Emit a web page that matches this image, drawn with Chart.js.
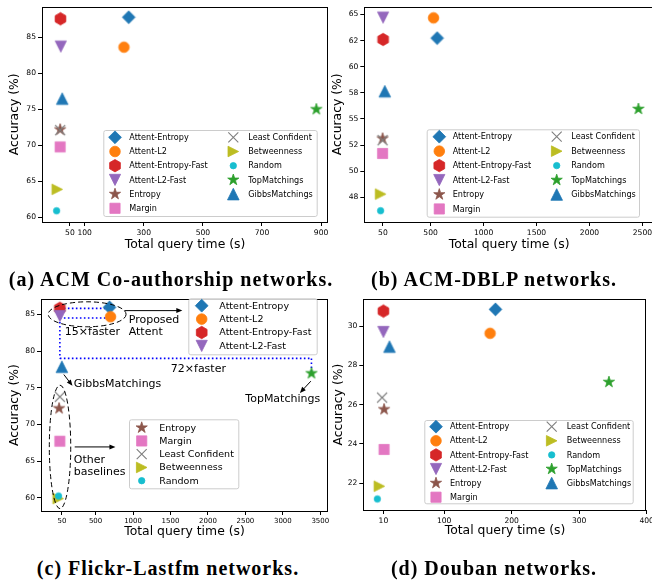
<!DOCTYPE html>
<html>
<head>
<meta charset="utf-8">
<script src="https://cdn.jsdelivr.net/npm/chart.js@4.4.1/dist/chart.umd.min.js"></script>
<style>
  html, body { margin: 0; padding: 0; background: #fff; }
  body { width: 652px; height: 583px; position: relative; overflow: hidden; }
  .panel { position: absolute; }
  .cap { position: absolute; font-family: "Liberation Serif", serif; font-weight: bold; font-size: 20px;
         letter-spacing: 1px; white-space: nowrap; line-height: 1; transform: translate(-50%, -50%); }
</style>
</head>
<body>
<div class="panel" style="left:0;top:0;width:334px;height:256px"><canvas id="acm"></canvas></div>
<div class="panel" style="left:330px;top:0;width:330px;height:256px"><canvas id="dblp"></canvas></div>
<div class="panel" style="left:0;top:290px;width:334px;height:256px"><canvas id="flickr"></canvas></div>
<div class="panel" style="left:330px;top:290px;width:330px;height:256px"><canvas id="douban"></canvas></div>
<div class="cap" style="left:171px;top:279px">(a) ACM Co-authorship networks.</div>
<div class="cap" style="left:494px;top:279px">(b) ACM-DBLP networks.</div>
<div class="cap" style="left:168px;top:568px">(c) Flickr-Lastfm networks.</div>
<div class="cap" style="left:494px;top:568px">(d) Douban networks.</div>
<script>
const FONT = '"DejaVu Sans"';

const methods = ['Attent-Entropy', 'Attent-L2', 'Attent-Entropy-Fast', 'Attent-L2-Fast', 'Entropy', 'Margin',
  'Least Confident', 'Betweenness', 'Random', 'TopMatchings', 'GibbsMatchings'];
const colors = ['#1f77b4', '#ff7f0e', '#d62728', '#9467bd', '#8c564b', '#e377c2',
  '#7f7f7f', '#bcbd22', '#17becf', '#2ca02c', '#1f77b4'];
const shapes = ['D', 'o', 'h', 'v', '*', 's', 'x', '>', 'o', '*', '^'];
const sizes = [6.4, 5.3, 6.2, 5.6, 5.9, 5.1, 5.0, 5.3, 3.2, 5.9, 5.8];

// (a) ACM Co-authorship
const acmTime = [249, 233, 18, 19, 17, 17, 17, 7, 5, 884, 24];
const acmAcc = [87.77, 83.62, 87.55, 83.7, 72.18, 69.77, 72.1, 63.88, 60.91, 74.99, 76.47];
const acmXTicks = [50, 100, 300, 500, 700, 900];
const acmYTicks = [60, 65, 70, 75, 80, 85];

// (b) ACM-DBLP
const dblpTime = [562, 528, 52, 52, 47, 47, 47, 28, 28, 2462, 68];
const dblpAcc = [62.74, 64.68, 62.61, 64.71, 53.13, 51.7, 52.97, 47.81, 46.22, 55.96, 57.65];
const dblpXTicks = [50, 500, 1000, 1500, 2000, 2500];
const dblpYTicks = [47.5, 50, 52.5, 55, 57.5, 60, 62.5, 65];
const dblpYLabels = ['48', '50', '52', '55', '58', '60', '62', '65'];

// (c) Flickr-Lastfm
const flickrTime = [686, 699, 23, 23, 13, 23, 23, 0, 5, 3382, 49];
const flickrAcc = [85.95, 84.67, 85.82, 84.77, 72.19, 67.73, 73.77, 59.92, 60.27, 76.96, 77.86];
const flickrXTicks = [50, 500, 1000, 1500, 2000, 2500, 3000, 3500];
const flickrYTicks = [60, 65, 70, 75, 80, 85];

// (d) Douban
const doubanTime = [176, 168, 10, 10, 11, 11, 8, 4, 1, 344, 19];
const doubanAcc = [30.85, 29.63, 30.76, 29.7, 25.76, 23.72, 26.36, 21.85, 21.2, 27.15, 28.95];
const doubanXTicks = [10, 100, 200, 300, 400];
const doubanYTicks = [22, 24, 26, 28, 30];

// annotations of (c), in data units
const flickrGuides = [[23, 85.8, 686, 85.8], [23, 84.5, 699, 84.5], [23, 84.5, 23, 79.0],
  [23, 79.0, 3382, 79.0], [3382, 79.0, 3382, 76.96]];
const flickrEllipses = [[387, 85.0, 520, 1.7], [25, 66.95, 143, 8.4]];
const flickrArrows = [[886, 85.5, 1658, 85.5], [76, 76.8, 191, 75.27], [3374, 75.9, 3228, 74.3], [221, 66.95, 765, 66.95]];
const flickrNotes = [['Proposed', 942, 84.22], ['Attent', 942, 82.55], ['15\u00d7faster', 89, 82.55],
  ['72\u00d7faster', 1504, 77.54], ['GibbsMatchings', 208, 75.5], ['TopMatchings', 2499, 73.5],
  ['Other', 208, 65.14], ['baselines', 208, 63.5]];

function poly(g, pts) {
  pts.forEach((p, k) => k ? g.lineTo(p[0], p[1]) : g.moveTo(p[0], p[1]));
  g.closePath();
}

function drawMarker(g, shape, color, r) {
  g.save();
  g.fillStyle = color;
  g.strokeStyle = color;
  g.lineWidth = 0.8;
  g.beginPath();
  if (shape === 'o') g.arc(0, 0, r, 0, Math.PI * 2);
  else if (shape === 'D') poly(g, [[0, -r], [r, 0], [0, r], [-r, 0]]);
  else if (shape === 's') poly(g, [[-r, -r], [r, -r], [r, r], [-r, r]]);
  else if (shape === 'v') poly(g, [[-r, -r], [r, -r], [0, r]]);
  else if (shape === '^') poly(g, [[0, -r], [r, r], [-r, r]]);
  else if (shape === '>') poly(g, [[r, 0], [-r, r], [-r, -r]]);
  else if (shape === 'h') poly(g, [0, 1, 2, 3, 4, 5].map(k => [r * Math.sin(k * Math.PI / 3), -r * Math.cos(k * Math.PI / 3)]));
  else if (shape === '*') poly(g, [0, 1, 2, 3, 4, 5, 6, 7, 8, 9].map(k => {
    const rr = k % 2 ? r * 0.382 : r;
    return [rr * Math.sin(k * Math.PI / 5), -rr * Math.cos(k * Math.PI / 5)];
  }));
  if (shape === 'x') {
    g.moveTo(-r, -r); g.lineTo(r, r); g.moveTo(r, -r); g.lineTo(-r, r);
    g.lineWidth = 1.1;
    g.stroke();
  } else {
    g.fill();
    g.stroke();
  }
  g.restore();
}

const markers = methods.map((m, i) => {
  const s = Math.ceil(2 * sizes[i] + 4);
  const c = document.createElement('canvas');
  c.width = s; c.height = s;
  const g = c.getContext('2d');
  g.translate(s / 2, s / 2);
  drawMarker(g, shapes[i], colors[i], sizes[i]);
  return c;
});

const framePlugin = {
  id: 'frame',
  afterDatasetsDraw(chart) {
    const a = chart.chartArea, ctx = chart.ctx;
    ctx.save();
    ctx.strokeStyle = '#000';
    ctx.lineWidth = 1;
    ctx.strokeRect(Math.round(a.left) + 0.5, Math.round(a.top) + 0.5,
      Math.round(a.right - a.left) - 1, Math.round(a.bottom - a.top));
    ctx.restore();
  }
};

function legendPlugin(boxes) {
  return {
    id: 'mplLegend',
    afterDraw(chart) {
      const ctx = chart.ctx;
      boxes.forEach(b => {
        ctx.save();
        ctx.beginPath();
        ctx.roundRect(b.box[0] + 0.5, b.box[1] + 0.5, b.box[2] - b.box[0], b.box[3] - b.box[1], 2);
        ctx.fillStyle = 'rgba(255,255,255,0.8)';
        ctx.fill();
        ctx.strokeStyle = '#cccccc';
        ctx.lineWidth = 1;
        ctx.stroke();
        ctx.font = b.font + 'px ' + FONT;
        ctx.fillStyle = '#000';
        ctx.textBaseline = 'middle';
        ctx.textAlign = 'left';
        b.cols.forEach(col => {
          col.items.forEach((idx, r) => {
            const y = b.y0 + r * b.step;
            ctx.save();
            ctx.translate(col.mx, y);
            drawMarker(ctx, shapes[idx], colors[idx], sizes[idx]);
            ctx.restore();
            ctx.fillText(methods[idx], col.tx, y + 0.5);
          });
        });
        ctx.restore();
      });
    }
  };
}

const flickrNotesPlugin = {
  id: 'flickrNotes',
  beforeDatasetsDraw(chart) {
    const X = v => chart.scales.x.getPixelForValue(v), Y = v => chart.scales.y.getPixelForValue(v);
    const ctx = chart.ctx;
    ctx.save();
    ctx.strokeStyle = '#0000ff';
    ctx.lineWidth = 1.6;
    ctx.setLineDash([1.6, 2.4]);
    flickrGuides.forEach(l => {
      ctx.beginPath();
      ctx.moveTo(X(l[0]), Y(l[1]));
      ctx.lineTo(X(l[2]), Y(l[3]));
      ctx.stroke();
    });
    ctx.restore();
  },
  afterDatasetsDraw(chart) {
    const X = v => chart.scales.x.getPixelForValue(v), Y = v => chart.scales.y.getPixelForValue(v);
    const ctx = chart.ctx;
    ctx.save();
    ctx.strokeStyle = '#000';
    ctx.lineWidth = 1;
    ctx.setLineDash([5, 3]);
    flickrEllipses.forEach(e => {
      const cx = X(e[0]), cy = Y(e[1]);
      ctx.beginPath();
      ctx.ellipse(cx, cy, Math.abs(X(e[0] + e[2]) - cx), Math.abs(Y(e[1] + e[3]) - cy), 0, 0, Math.PI * 2);
      ctx.stroke();
    });
    ctx.setLineDash([]);
    ctx.fillStyle = '#000';
    flickrArrows.forEach(a => {
      const x1 = X(a[0]), y1 = Y(a[1]), x2 = X(a[2]), y2 = Y(a[3]);
      const ang = Math.atan2(y2 - y1, x2 - x1);
      ctx.beginPath();
      ctx.moveTo(x1, y1);
      ctx.lineTo(x2 - 4 * Math.cos(ang), y2 - 4 * Math.sin(ang));
      ctx.stroke();
      ctx.beginPath();
      ctx.moveTo(x2, y2);
      ctx.lineTo(x2 - 6 * Math.cos(ang) + 2.5 * Math.sin(ang), y2 - 6 * Math.sin(ang) - 2.5 * Math.cos(ang));
      ctx.lineTo(x2 - 6 * Math.cos(ang) - 2.5 * Math.sin(ang), y2 - 6 * Math.sin(ang) + 2.5 * Math.cos(ang));
      ctx.closePath();
      ctx.fill();
    });
    ctx.font = '11px ' + FONT;
    ctx.textBaseline = 'middle';
    ctx.textAlign = 'left';
    flickrNotes.forEach(n => ctx.fillText(n[0], X(n[1]), Y(n[2])));
    ctx.restore();
  }
};

const tickGrid = { drawOnChartArea: false, drawTicks: true, tickLength: 4, color: '#000', lineWidth: 1 };

function makeChart(id, p) {
  const datasets = methods.map((m, i) => ({
    label: m,
    data: [{ x: p.time[i], y: p.acc[i] }],
    pointStyle: markers[i],
    pointRadius: 5,
    order: methods.length - i
  }));
  return new Chart(document.getElementById(id), {
    type: 'scatter',
    data: { datasets },
    options: {
      responsive: true,
      maintainAspectRatio: false,
      animation: false,
      events: [],
      layout: { padding: p.pad },
      plugins: { legend: { display: false }, tooltip: { enabled: false } },
      scales: {
        x: {
          type: 'linear', min: p.xMin, max: p.xMax,
          afterBuildTicks: s => { s.ticks = p.xTicks.map(v => ({ value: v })); },
          afterFit: s => { s.height = p.xH; },
          grid: tickGrid,
          border: { display: false },
          ticks: { autoSkip: false, maxRotation: 0, padding: 2, color: '#000',
            font: { family: FONT, size: p.xTickSize || 7.6 }, callback: v => String(v) },
          title: { display: true, text: 'Total query time (s)', color: '#000',
            font: { family: FONT, size: 12.4 }, padding: { top: 0, bottom: p.xTitlePad } }
        },
        y: {
          type: 'linear', min: p.yMin, max: p.yMax,
          afterBuildTicks: s => { s.ticks = p.yTicks.map(v => ({ value: v })); },
          afterFit: s => { s.width = p.yW; },
          grid: tickGrid,
          border: { display: false },
          ticks: { autoSkip: false, padding: 2, color: '#000', font: { family: FONT, size: 7.6 },
            callback: (v, k) => p.yLabels ? p.yLabels[k] : String(v) },
          title: { display: true, text: 'Accuracy (%)', color: '#000',
            font: { family: FONT, size: 12.4 }, padding: { top: p.yTitlePad, bottom: 0 } }
        }
      }
    },
    plugins: p.plugins
  });
}

const twoCols = [[0, 1, 2, 3, 4, 5], [6, 7, 8, 9, 10]];

makeChart('acm', {
  time: acmTime, acc: acmAcc, xTicks: acmXTicks, yTicks: acmYTicks,
  xMin: -44.5, xMax: 923.5, yMin: 59.35, yMax: 89.25,
  pad: { top: 6, right: 4, left: 0, bottom: 0 }, yW: 42, xH: 34, xTitlePad: 3.6, yTitlePad: 7.6,
  plugins: [framePlugin, legendPlugin([{
    box: [103.3, 130, 316.7, 216], y0: 137.3, step: 14.2, font: 8.1,
    cols: [{ mx: 115, tx: 129.3, items: twoCols[0] }, { mx: 233.3, tx: 248.3, items: twoCols[1] }]
  }])]
});

makeChart('dblp', {
  time: dblpTime, acc: dblpAcc, xTicks: dblpXTicks, yTicks: dblpYTicks, yLabels: dblpYLabels,
  xMin: -125.6, xMax: 2609, yMin: 45.14, yMax: 65.76,
  pad: { top: 6, right: 4, left: 0, bottom: 0 }, yW: 34.3, xH: 34, xTitlePad: 3.6, yTitlePad: 0.6,
  plugins: [framePlugin, legendPlugin([{
    box: [96.7, 129.3, 309, 216.7], y0: 136.7, step: 14.45, font: 8.1,
    cols: [{ mx: 109.3, tx: 122.7, items: twoCols[0] }, { mx: 226.7, tx: 241.3, items: twoCols[1] }]
  }])]
});

makeChart('flickr', {
  time: flickrTime, acc: flickrAcc, xTicks: flickrXTicks, yTicks: flickrYTicks,
  xMin: -229, xMax: 3603, yMin: 58.23, yMax: 87.04, xTickSize: 7,
  pad: { top: 9.3, right: 4, left: 0, bottom: 0 }, yW: 41, xH: 35, xTitlePad: 6.6, yTitlePad: 7.6,
  plugins: [flickrNotesPlugin, framePlugin, legendPlugin([
    { box: [188.3, 8.3, 316.7, 64.3], y0: 15.7, step: 13.4, font: 9.5,
      cols: [{ mx: 201.7, tx: 219.3, items: [0, 1, 2, 3] }] },
    { box: [129, 129.3, 238.3, 198.3], y0: 137.7, step: 13.25, font: 9.5,
      cols: [{ mx: 141.7, tx: 159.3, items: [4, 5, 6, 7, 8] }] }
  ])]
});

makeChart('douban', {
  time: doubanTime, acc: doubanAcc, xTicks: doubanXTicks, yTicks: doubanYTicks,
  xMin: -19.8, xMax: 400, yMin: 20.64, yMax: 31.36,
  pad: { top: 9.3, right: 13.3, left: 0, bottom: 0 }, yW: 33.3, xH: 36, xTitlePad: 7.9, yTitlePad: 0.9,
  plugins: [framePlugin, legendPlugin([{
    box: [94.3, 130, 302.7, 213.3], y0: 136.7, step: 14.1, font: 8.1,
    cols: [{ mx: 106, tx: 120, items: twoCols[0] }, { mx: 221.7, tx: 236.7, items: twoCols[1] }]
  }])]
});
</script>
</body>
</html>
